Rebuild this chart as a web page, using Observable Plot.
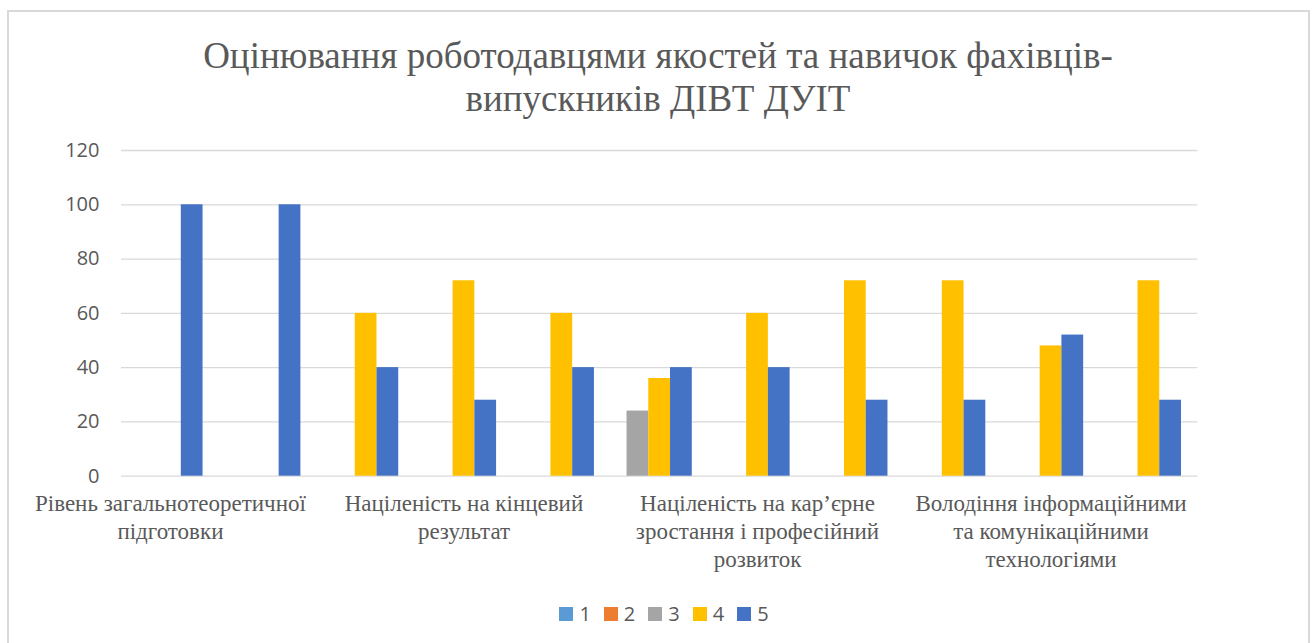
<!DOCTYPE html>
<html>
<head>
<meta charset="utf-8">
<script src="https://cdn.jsdelivr.net/npm/d3@7"></script>
<script src="https://cdn.jsdelivr.net/npm/@observablehq/plot@0.6"></script>
<style>
  html, body { margin: 0; padding: 0; background: #fff; }
  #frame { position: absolute; left: 7px; top: 10px; width: 1303px; height: 660px; border: 2px solid #d9d9d9; box-sizing: border-box; }
  #title { position: absolute; left: 0; top: 34px; width: 1316px; text-align: center;
           font-family: "Times New Roman", "Liberation Serif", Tinos, "DejaVu Serif", "Noto Serif", serif;
           font-size: 37px; line-height: 43px; color: #595959; }
  #chart { position: absolute; left: 0; top: 0; }
  #legend { position: absolute; left: 10px; top: 600px; width: 1321px; display: flex; justify-content: center; }
  .lg-swatches { font-family: "Open Sans", sans-serif !important; font-size: 20px !important; color: #595959 !important;
                 margin: 0 !important; min-height: 0 !important; }
  .lg-swatch { margin-right: 13px !important; }
  .lg-swatch > svg { margin-right: 6px !important; }
</style>
</head>
<body>
<div id="frame"></div>
<div id="title">Оцінювання роботодавцями якостей та навичок фахівців-<br>випускників ДІВТ ДУІТ</div>
<div id="chart"></div>
<div id="legend"></div>
<script>
// Categories (11 criteria; only every third name is shown on the axis, as in the source)
const categories = ["1", "2", "3", "4", "5", "6", "7", "8", "9", "10", "11"];
const shownTicks = ["1", "4", "7", "10"];
const tickText = [
  "Рівень загальнотеоретичної\nпідготовки",
  "Націленість на кінцевий\nрезультат",
  "Націленість на кар’єрне\nзростання і професійний\nрозвиток",
  "Володіння інформаційними\nта комунікаційними\nтехнологіями"
];

// Series (scores 1..5)
const seriesNames = ["1", "2", "3", "4", "5"];
const score1 = [0, 0, 0, 0, 0, 0, 0, 0, 0, 0, 0];
const score2 = [0, 0, 0, 0, 0, 0, 0, 0, 0, 0, 0];
const score3 = [0, 0, 0, 0, 0, 24, 0, 0, 0, 0, 0];
const score4 = [0, 0, 60, 72, 60, 36, 60, 72, 72, 48, 72];
const score5 = [100, 100, 40, 28, 40, 40, 40, 28, 28, 52, 28];
const seriesColors = ["#5b9bd5", "#ed7d31", "#a5a5a5", "#ffc000", "#4472c4"];
const yTicks = [0, 20, 40, 60, 80, 100, 120];

const allScores = [score1, score2, score3, score4, score5];
const rows = seriesNames.map((s, k) =>
  categories.map((c, i) => ({category: c, series: s, value: allScores[k][i]}))
);
const labelOf = new Map(shownTicks.map((t, i) => [t, tickText[i]]));

const serif = "'Times New Roman', 'Liberation Serif', Tinos, 'DejaVu Serif', 'Noto Serif', serif";
const slot = 21.75;     // width of one series slot inside a group
const inset = 38.05;    // (band - bar width) / 2

const chart = Plot.plot({
  width: 1314,
  height: 590,
  marginLeft: 121,
  marginRight: 116.7,
  marginTop: 150,
  marginBottom: 114.3,
  style: {background: "transparent", color: "#595959", overflow: "visible"},
  x: {domain: categories, padding: 0, round: false, label: null},
  y: {domain: [0, 120], label: null},
  color: {domain: seriesNames, range: seriesColors},
  marks: [
    Plot.ruleY(yTicks, {stroke: "#d9d9d9", strokeWidth: 1.3}),
    ...rows.map((data, k) =>
      Plot.barY(data.filter(d => d.value > 0), {
        x: "category", y: "value", fill: "series",
        dx: (k - 3) * slot, insetLeft: inset, insetRight: inset
      })
    ),
    Plot.axisY({ticks: yTicks, tickSize: 0, tickPadding: 22, fontSize: 20,
                fontFamily: "Open Sans, sans-serif", label: null}),
    Plot.axisX({ticks: shownTicks, tickFormat: d => labelOf.get(d), tickSize: 0,
                tickPadding: 15, fontSize: 23, lineHeight: 1.22,
                fontFamily: serif, label: null})
  ]
});
document.getElementById("chart").appendChild(chart);

const legend = Plot.legend({
  color: {domain: seriesNames, range: seriesColors},
  swatchSize: 14,
  className: "lg"
});
document.getElementById("legend").appendChild(legend);
</script>
</body>
</html>
